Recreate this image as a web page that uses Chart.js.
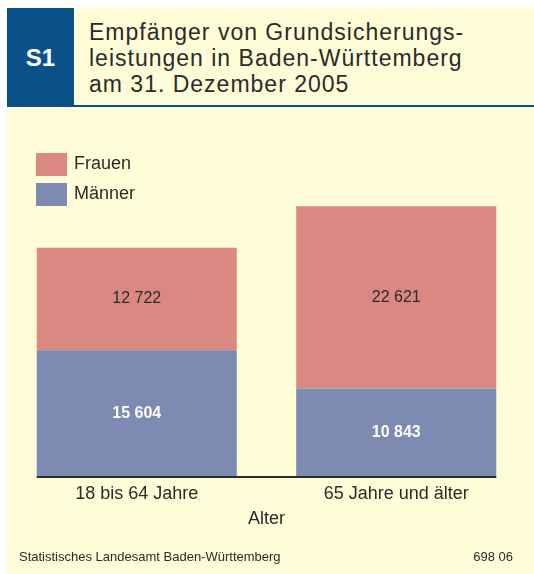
<!DOCTYPE html>
<html>
<head>
<meta charset="utf-8">
<script src="https://cdn.jsdelivr.net/npm/chart.js@4"></script>
<style>
  body { margin: 0; width: 534px; height: 574px; background: #fff; position: relative; overflow: hidden;
         font-family: "Liberation Sans", Arial, sans-serif; color: #2b2b2b; }
  #panel { position: absolute; left: 7px; top: 8px; right: 0; bottom: 0; background: #fffcd8; }
  #badge { position: absolute; left: 7px; top: 8px; width: 67px; height: 99px; background: #0a5189;
           color: #fff; font-weight: bold; font-size: 24px; line-height: 99px; text-align: center; }
  #rule { position: absolute; left: 74px; top: 105px; right: 0; height: 2px; background: #0a5189; }
  #title { position: absolute; left: 89px; top: 19px; font-size: 23px; line-height: 26px; letter-spacing: 1px; }
  #chartBox { position: absolute; left: 0; top: 108px; width: 534px; height: 466px; }
  .leg { position: absolute; left: 36px; font-size: 18px; }
  .leg span { display: inline-block; width: 31px; height: 23px; vertical-align: middle; margin-right: 7px; }
  .foot { position: absolute; top: 549px; font-size: 13px; }
</style>
</head>
<body>
<div id="panel"></div>
<div id="badge">S1</div>
<div id="rule"></div>
<div id="title">Empfänger von Grundsicherungs-<br>leistungen in Baden-Württemberg<br>am 31. Dezember 2005</div>
<div id="chartBox"><canvas id="chart"></canvas></div>
<div class="leg" style="top:153px"><span style="background:#d98882"></span>Frauen</div>
<div class="leg" style="top:183px"><span style="background:#7d8bb3"></span>Männer</div>
<div class="foot" style="left:19px">Statistisches Landesamt Baden-Württemberg</div>
<div class="foot" style="right:21px">698 06</div>

<script>
const categories = ["18 bis 64 Jahre", "65 Jahre und älter"];
const maenner = [15604, 10843];
const frauen = [12722, 22621];
const axisTitle = "Alter";

const fmt = (v) => String(v).replace(/\B(?=(\d{3})+(?!\d))/g, " ");
const FONT = "'Liberation Sans', Arial, sans-serif";

// values inside the bar segments + baseline under the bars
const barLabels = {
  id: "barLabels",
  afterDatasetsDraw(chart) {
    const ctx = chart.ctx;
    ctx.save();
    ctx.textAlign = "center";
    ctx.textBaseline = "middle";
    chart.data.datasets.forEach((ds, i) => {
      chart.getDatasetMeta(i).data.forEach((bar, j) => {
        ctx.font = (i === 0 ? "bold " : "") + "16px " + FONT;
        ctx.fillStyle = i === 0 ? "#ffffff" : "#2b2b2b";
        ctx.fillText(fmt(ds.data[j]), bar.x, (bar.y + bar.base) / 2);
      });
    });
    const bars = chart.getDatasetMeta(0).data;
    const first = bars[0], last = bars[bars.length - 1];
    ctx.strokeStyle = "#2b2b2b";
    ctx.lineWidth = 2;
    ctx.beginPath();
    ctx.moveTo(first.x - first.width / 2, chart.chartArea.bottom + 1);
    ctx.lineTo(last.x + last.width / 2, chart.chartArea.bottom + 1);
    ctx.stroke();
    ctx.restore();
  },
};

new Chart(document.getElementById("chart"), {
  type: "bar",
  data: {
    labels: categories,
    datasets: [
      { label: "Männer", data: maenner, backgroundColor: "#7d8bb3" },
      { label: "Frauen", data: frauen, backgroundColor: "#d98882" },
    ],
  },
  options: {
    responsive: true,
    maintainAspectRatio: false,
    animation: false,
    layout: { padding: { left: 7, right: 8, top: 94, bottom: 44 } },
    barPercentage: 1,
    categoryPercentage: 0.771,
    plugins: { legend: { display: false }, tooltip: { enabled: false } },
    scales: {
      x: {
        stacked: true,
        grid: { display: false, drawTicks: false },
        border: { display: false },
        ticks: { color: "#2b2b2b", padding: 7, font: { size: 18, family: FONT } },
        title: {
          display: true,
          text: axisTitle,
          color: "#2b2b2b",
          padding: { top: 0, bottom: 4 },
          font: { size: 18, family: FONT, lineHeight: 0.8 },
        },
      },
      y: { stacked: true, display: false, min: 0, max: 34000 },
    },
  },
  plugins: [barLabels],
});
</script>
</body>
</html>
